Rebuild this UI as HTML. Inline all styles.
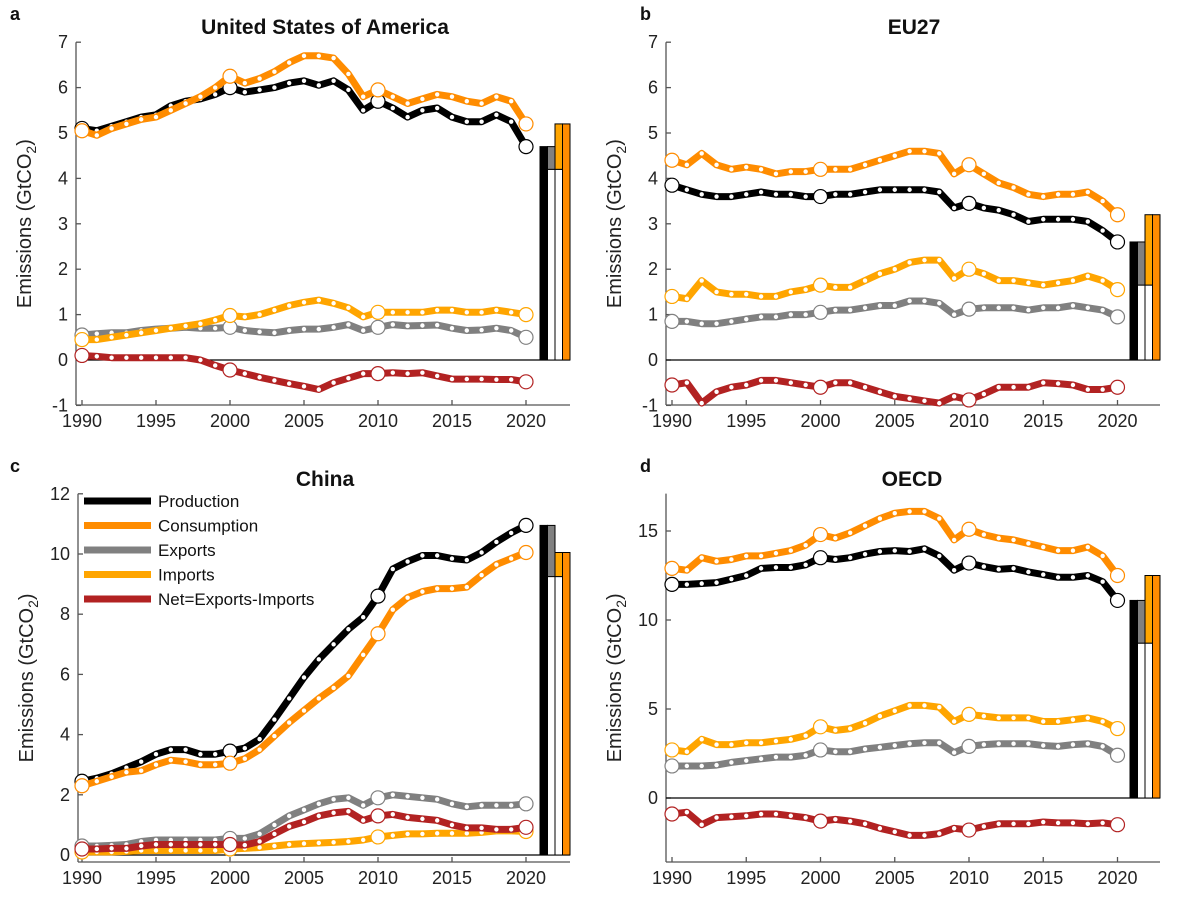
<!DOCTYPE html>
<html><head><meta charset="utf-8"><style>
body{margin:0;background:#fff;}
svg{display:block;font-family:"Liberation Sans",sans-serif;}
</style></head><body>
<svg id="chart" width="1200" height="900" viewBox="0 0 1200 900"></svg>
<script>
const years=[1990,1991,1992,1993,1994,1995,1996,1997,1998,1999,2000,2001,2002,2003,2004,2005,2006,2007,2008,2009,2010,2011,2012,2013,2014,2015,2016,2017,2018,2019,2020];
const seriesNames=["Production","Consumption","Exports","Imports","Net=Exports-Imports"];
// USA
const usaProd=[5.1,5.05,5.15,5.25,5.35,5.4,5.6,5.7,5.75,5.85,6.0,5.9,5.95,6.0,6.1,6.15,6.05,6.15,5.95,5.5,5.7,5.55,5.35,5.5,5.55,5.35,5.25,5.25,5.4,5.25,4.7];
const usaCons=[5.05,4.95,5.1,5.2,5.3,5.35,5.5,5.65,5.8,6.0,6.25,6.1,6.2,6.35,6.55,6.7,6.7,6.65,6.3,5.8,5.95,5.8,5.65,5.75,5.85,5.8,5.7,5.65,5.8,5.7,5.2];
const usaExp=[0.55,0.58,0.6,0.6,0.65,0.68,0.7,0.72,0.7,0.7,0.72,0.65,0.62,0.6,0.65,0.68,0.68,0.72,0.78,0.65,0.72,0.78,0.75,0.76,0.77,0.7,0.65,0.66,0.7,0.65,0.5];
const usaImp=[0.45,0.45,0.5,0.55,0.6,0.65,0.7,0.75,0.8,0.88,0.98,0.95,1.0,1.1,1.2,1.27,1.32,1.25,1.15,0.95,1.05,1.05,1.05,1.05,1.1,1.1,1.05,1.05,1.1,1.05,1.0];
const usaNet=[0.1,0.08,0.05,0.05,0.05,0.05,0.05,0.05,0.0,-0.12,-0.22,-0.3,-0.38,-0.45,-0.52,-0.58,-0.65,-0.5,-0.4,-0.3,-0.3,-0.28,-0.3,-0.28,-0.35,-0.42,-0.42,-0.42,-0.43,-0.43,-0.48];
// EU27
const euProd=[3.85,3.75,3.65,3.6,3.6,3.65,3.7,3.65,3.65,3.6,3.6,3.65,3.65,3.7,3.75,3.75,3.75,3.75,3.7,3.35,3.45,3.35,3.3,3.2,3.05,3.1,3.1,3.1,3.05,2.85,2.6];
const euCons=[4.4,4.3,4.55,4.3,4.2,4.25,4.2,4.1,4.15,4.15,4.2,4.2,4.2,4.3,4.4,4.5,4.6,4.6,4.55,4.1,4.3,4.1,3.9,3.8,3.65,3.6,3.65,3.65,3.7,3.5,3.2];
const euExp=[0.85,0.85,0.8,0.8,0.85,0.9,0.95,0.95,1.0,1.0,1.05,1.1,1.1,1.15,1.2,1.2,1.3,1.3,1.25,1.0,1.12,1.15,1.15,1.15,1.1,1.15,1.15,1.2,1.15,1.1,0.95];
const euImp=[1.4,1.35,1.75,1.5,1.45,1.45,1.4,1.4,1.5,1.55,1.65,1.6,1.6,1.75,1.9,2.0,2.15,2.2,2.2,1.8,2.0,1.9,1.75,1.75,1.7,1.65,1.7,1.75,1.85,1.75,1.55];
const euNet=[-0.55,-0.5,-0.95,-0.7,-0.6,-0.55,-0.45,-0.45,-0.5,-0.55,-0.6,-0.5,-0.5,-0.6,-0.7,-0.8,-0.85,-0.9,-0.95,-0.8,-0.88,-0.75,-0.6,-0.6,-0.6,-0.5,-0.52,-0.55,-0.65,-0.65,-0.6];
// China
const cnProd=[2.45,2.55,2.7,2.9,3.1,3.35,3.5,3.5,3.35,3.35,3.45,3.55,3.85,4.5,5.2,5.9,6.5,7.0,7.5,7.9,8.6,9.5,9.75,9.95,9.95,9.85,9.8,10.05,10.4,10.7,10.95];
const cnCons=[2.3,2.45,2.6,2.75,2.8,3.0,3.15,3.1,3.0,3.0,3.05,3.2,3.5,3.95,4.4,4.8,5.2,5.55,5.95,6.65,7.35,8.15,8.55,8.75,8.85,8.85,8.9,9.3,9.65,9.85,10.05];
const cnExp=[0.3,0.3,0.32,0.35,0.45,0.5,0.5,0.5,0.5,0.5,0.55,0.55,0.7,1.0,1.3,1.5,1.7,1.85,1.9,1.65,1.9,2.0,1.95,1.9,1.85,1.7,1.6,1.65,1.65,1.65,1.7];
const cnImp=[0.1,0.1,0.1,0.12,0.15,0.15,0.15,0.15,0.15,0.15,0.2,0.22,0.25,0.3,0.35,0.38,0.4,0.42,0.45,0.5,0.6,0.65,0.7,0.7,0.72,0.72,0.72,0.75,0.8,0.8,0.78];
const cnNet=[0.2,0.2,0.22,0.22,0.3,0.35,0.35,0.35,0.35,0.35,0.35,0.33,0.45,0.7,0.95,1.1,1.3,1.4,1.45,1.15,1.3,1.35,1.25,1.2,1.15,1.0,0.9,0.9,0.85,0.85,0.92];
// OECD
const oeProd=[12.0,12.0,12.05,12.1,12.3,12.5,12.9,12.95,12.95,13.1,13.5,13.4,13.5,13.7,13.85,13.9,13.85,14.0,13.6,12.8,13.2,13.0,12.85,12.9,12.7,12.55,12.4,12.4,12.5,12.15,11.1];
const oeCons=[12.9,12.8,13.5,13.3,13.4,13.6,13.6,13.75,13.9,14.2,14.8,14.6,14.9,15.3,15.7,16.0,16.1,16.1,15.7,14.5,15.1,14.8,14.6,14.5,14.3,14.1,13.9,13.9,14.1,13.6,12.5];
const oeExp=[1.8,1.8,1.8,1.85,2.0,2.1,2.2,2.3,2.3,2.4,2.7,2.6,2.6,2.75,2.85,2.95,3.05,3.1,3.1,2.55,2.9,3.0,3.05,3.05,3.05,2.95,2.9,3.0,3.05,2.9,2.4];
const oeImp=[2.7,2.6,3.3,3.0,3.0,3.1,3.1,3.2,3.3,3.5,4.0,3.8,3.9,4.2,4.6,4.9,5.2,5.2,5.1,4.3,4.7,4.6,4.5,4.5,4.5,4.3,4.3,4.4,4.5,4.3,3.9];
const oeNet=[-0.9,-0.8,-1.5,-1.1,-1.05,-1.0,-0.9,-0.9,-1.0,-1.1,-1.3,-1.2,-1.3,-1.45,-1.7,-1.9,-2.1,-2.1,-2.0,-1.7,-1.8,-1.6,-1.45,-1.45,-1.45,-1.35,-1.4,-1.4,-1.45,-1.4,-1.5];
const xTickLabels=["1990","1995","2000","2005","2010","2015","2020"];
const ticksA=[-1,0,1,2,3,4,5,6,7];
const ticksC=[0,2,4,6,8,10,12];
const ticksD=[0,5,10,15];

const NS="http://www.w3.org/2000/svg";
const svg=document.getElementById('chart');
function mk(tag,attrs,parent){const e=document.createElementNS(NS,tag);for(const k in attrs)e.setAttribute(k,attrs[k]);(parent||svg).appendChild(e);return e;}
const colors=["#000000","#ff8c00","#808080","#ffa500","#b22222"];
const keys=["production","consumption","exports","imports","net"];

function panel(cfg){
  const g=mk('g',{});
  
  
  const X=y=>cfg.x0+(y-1990)*cfg.dx;
  const Y=v=>cfg.y0-(v)*cfg.dy;
  const axisCol="#555";
  // axes
  const ya=mk('line',{x1:cfg.ax,x2:cfg.ax,y1:Y(cfg.ymax),y2:cfg.xaxY,stroke:axisCol,'stroke-width':1.3},g);
  
  
  const xa=mk('line',{x1:cfg.ax,x2:cfg.axEnd,y1:cfg.xaxY,y2:cfg.xaxY,stroke:axisCol,'stroke-width':1.3},g);
  
  
  cfg.yt.forEach(v=>{
    mk('line',{x1:cfg.ax,x2:cfg.ax+5,y1:Y(v),y2:Y(v),stroke:axisCol,'stroke-width':1.3},g);
    const t=mk('text',{x:cfg.ax-8,y:Y(v)+6,'text-anchor':'end','font-size':18,fill:'#222'},g);
    t.textContent=v;
    
    
  });
  xTickLabels.forEach(s=>{
    const xx=X(+s);
    mk('line',{x1:xx,x2:xx,y1:cfg.xaxY,y2:cfg.xaxY-5,stroke:axisCol,'stroke-width':1.3},g);
    const t=mk('text',{x:xx,y:cfg.xaxY+22,'text-anchor':'middle','font-size':18,fill:'#222'},g);
    t.textContent=s;
    
    
  });
  // zero line
  const z=mk('line',{x1:cfg.ax,x2:cfg.axEnd,y1:Y(0),y2:Y(0),stroke:'#000','stroke-width':1.3},g);
  
  
  // y label
  const yl=mk('text',{x:0,y:0,'text-anchor':'middle','font-size':20,fill:'#222',transform:`translate(${cfg.ax-45},${(Y(cfg.ymax)+cfg.xaxY)/2}) rotate(-90)`},g);
  yl.innerHTML='Emissions (GtCO<tspan font-size="14" dy="5">2</tspan><tspan dy="-5">)</tspan>';
  
  
  // title & letter
  const ti=mk('text',{x:cfg.tx,y:cfg.ty,'text-anchor':'middle','font-size':21,'font-weight':'bold',fill:'#111'},g);
  ti.textContent=cfg.title;
  
  
  const le=mk('text',{x:cfg.lx,y:cfg.ly,'font-size':18,'font-weight':'bold',fill:'#111'},g);
  le.textContent=cfg.letter;
  
  
  // series
  const order=[2,3,4,0,1];
  order.forEach(i=>{
    const d=cfg.data[i];
    const pts=d.map((v,j)=>X(years[j]).toFixed(1)+','+Y(v).toFixed(1)).join(' ');
    const pl=mk('polyline',{points:pts,fill:'none',stroke:colors[i],'stroke-width':7,'stroke-linejoin':'round','stroke-linecap':'round'},g);
    
    
    d.forEach((v,j)=>{
      if(years[j]%10===0){
        const c=mk('circle',{cx:X(years[j]),cy:Y(v),r:7,fill:'#fff',stroke:colors[i],'stroke-width':1.2},g);
        
        
      } else {
        const c=mk('circle',{cx:X(years[j]),cy:Y(v),r:2.2,fill:'#fff'},g);
        
        
      }
    });
  });
  // bars for 2020
  const P=cfg.data[0][30],C=cfg.data[1][30],E=cfg.data[2][30];
  const base=P-E;
  const bx=cfg.bx,w=7.5;
  function bar(x,a,b,fill,name){const r=mk('rect',{x:x,y:Y(b),width:w,height:Y(a)-Y(b),fill:fill,stroke:'#000','stroke-width':1},g);
    
    }
  bar(bx,0,P,'#000','production-bar');
  bar(bx+w,0,base,'#fff','base-bar');
  bar(bx+w,base,P,'#808080','exports-bar');
  bar(bx+2*w,0,base,'#fff','base-bar-2');
  bar(bx+2*w,base,C,'#ffa500','imports-bar');
  bar(bx+3*w,0,C,'#ff8c00','consumption-bar');
}
panel({name:'usa',title:'United States of America',letter:'a',tx:325,ty:34,lx:10,ly:20,x0:82,dx:14.8,y0:360,dy:45.4,ymax:7,yt:ticksA,ax:76,axEnd:570,xaxY:405,bx:540,data:[usaProd,usaCons,usaExp,usaImp,usaNet]});
panel({name:'eu27',title:'EU27',letter:'b',tx:914,ty:34,lx:640,ly:20,x0:672,dx:14.85,y0:360,dy:45.4,ymax:7,yt:ticksA,ax:666,axEnd:1160,xaxY:405,bx:1130,data:[euProd,euCons,euExp,euImp,euNet]});
panel({name:'china',title:'China',letter:'c',tx:325,ty:486,lx:10,ly:472,x0:82,dx:14.8,y0:855,dy:30.1,ymax:12,yt:ticksC,ax:78,axEnd:570,xaxY:862,bx:540,data:[cnProd,cnCons,cnExp,cnImp,cnNet]});
panel({name:'oecd',title:'OECD',letter:'d',tx:912,ty:486,lx:640,ly:472,x0:672,dx:14.85,y0:798,dy:17.8,ymax:17.1,yt:ticksD,ax:666,axEnd:1160,xaxY:862,bx:1130,data:[oeProd,oeCons,oeExp,oeImp,oeNet]});

// legend in panel c
const lg=mk('g',{});


seriesNames.forEach((n,i)=>{
  const y=501+i*24.5;
  const l=mk('line',{x1:84,x2:151,y1:y,y2:y,stroke:colors[i],'stroke-width':7},lg);
  
  
  const t=mk('text',{x:158,y:y+6,'font-size':17,fill:'#111'},lg);
  t.textContent=n;
  
  
});
</script>
</body></html>
